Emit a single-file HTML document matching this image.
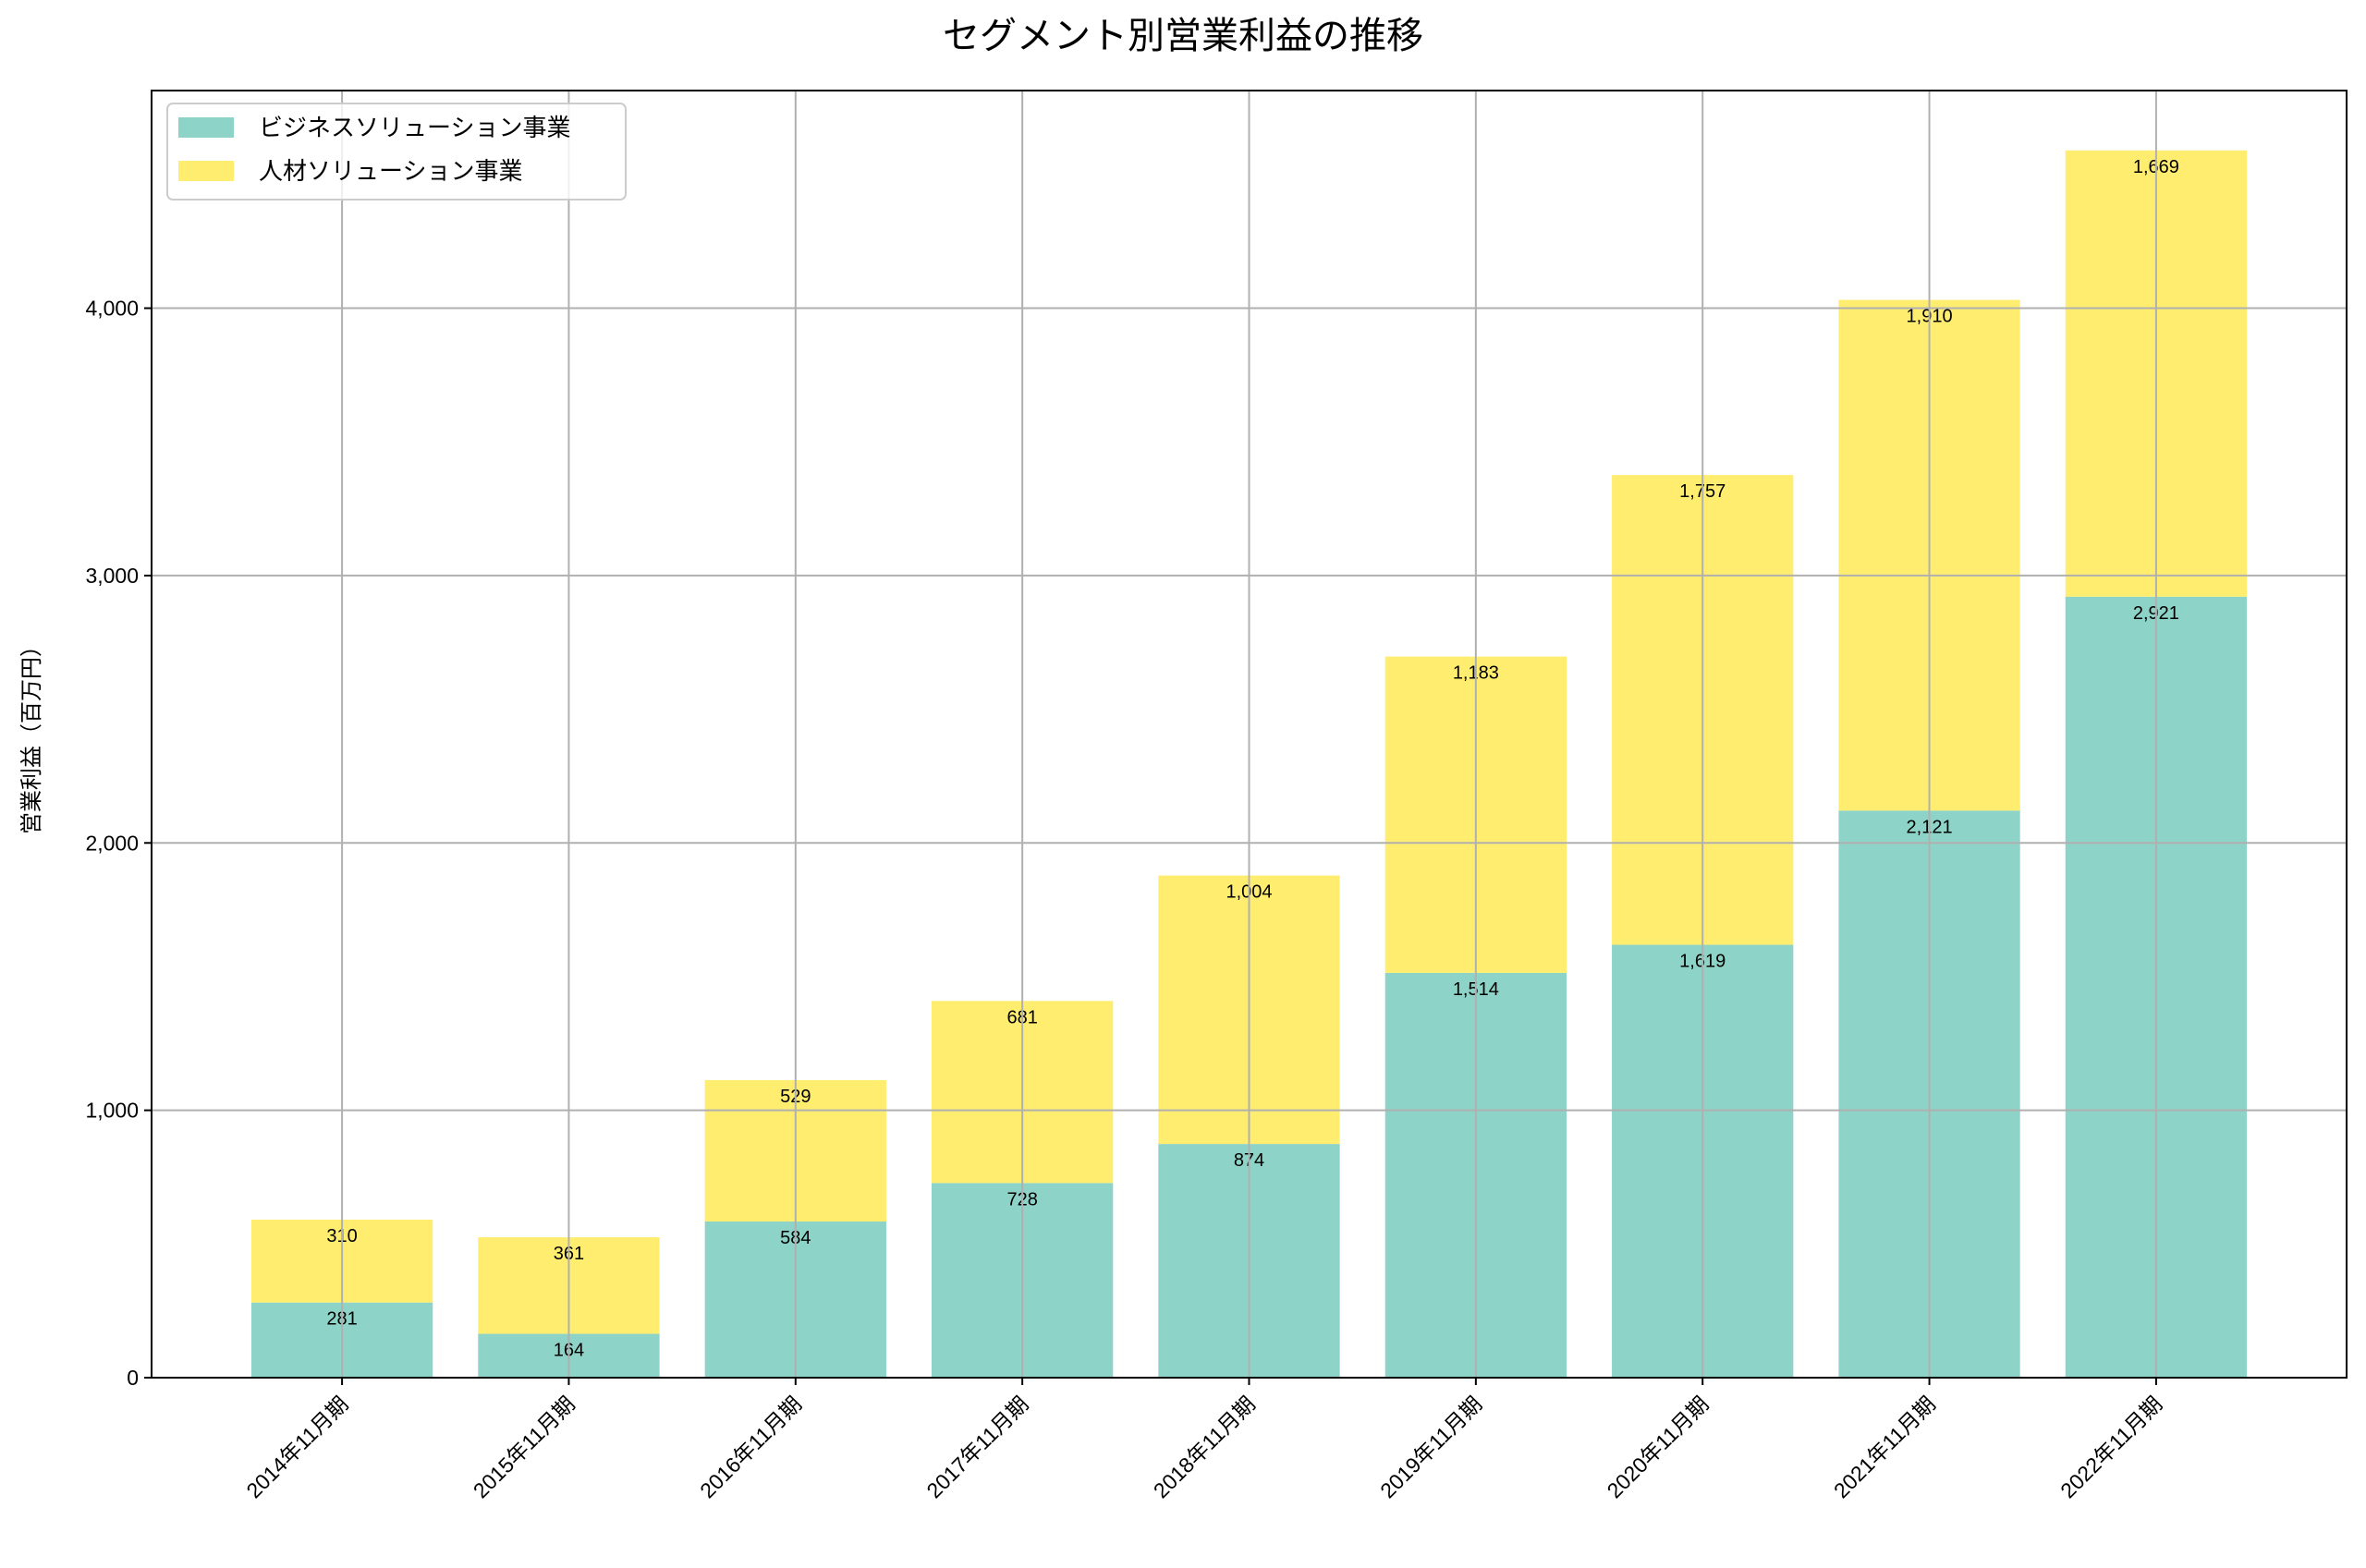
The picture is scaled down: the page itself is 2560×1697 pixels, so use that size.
<!DOCTYPE html>
<html><head><meta charset="utf-8"><style>
html,body{margin:0;padding:0;background:#fff}
svg{display:block;font-family:"Liberation Sans","Noto Sans CJK JP",sans-serif}
</style></head><body>
<svg id="chart" width="2560" height="1697" viewBox="0 0 2560 1697">
<text x="1280" y="52" font-size="40" text-anchor="middle">セグメント別営業利益の推移</text>
<g id="grid"></g>
<g id="bars"></g>
<g id="labels"></g>
<rect x="164" y="98" width="2375" height="1393" fill="none" stroke="#000" stroke-width="2"/>
<g id="yticks"></g>
<g id="xticks"></g>
<text transform="translate(42,795) rotate(-90)" font-size="24" text-anchor="middle">営業利益（百万円）</text>
<g>
<rect x="181" y="112" width="496" height="104" rx="6" fill="#fff" fill-opacity="0.8" stroke="#ccc" stroke-width="2"/>
<rect x="193" y="127" width="60" height="22" fill="#8dd3c7"/>
<text x="280" y="147" font-size="26">ビジネスソリューション事業</text>
<rect x="193" y="174" width="60" height="22" fill="#ffed6f"/>
<text x="280" y="194" font-size="26">人材ソリューション事業</text>
</g>
</svg>
<script>
const categories=["2014年11月期","2015年11月期","2016年11月期","2017年11月期","2018年11月期","2019年11月期","2020年11月期","2021年11月期","2022年11月期"];
const business=[281,164,584,728,874,1514,1619,2121,2921];
const hr=[310,361,529,681,1004,1183,1757,1910,1669];
const yTicks=[0,1000,2000,3000,4000];
const yTickLabels=["0","1,000","2,000","3,000","4,000"];
const NS="http://www.w3.org/2000/svg";
const L=164,R=2539,T=98,B=1491,yMax=4814;
const xMin=-0.84,xMax=8.84;
const xs=i=>L+(i-xMin)/(xMax-xMin)*(R-L);
const ys=v=>B-v/yMax*(B-T);
const bw=0.8*(R-L)/(xMax-xMin);
function mk(tag,attrs,parent){const e=document.createElementNS(NS,tag);for(const k in attrs)e.setAttribute(k,attrs[k]);document.getElementById(parent).appendChild(e);return e;}
const fmt=v=>v.toLocaleString('en-US');
yTicks.forEach((t,i)=>{
  const y=ys(t);
  const tl=mk('line',{x1:L-8,x2:L,y1:y,y2:y,stroke:'#000','stroke-width':2},'yticks');
  
  
  const tx=mk('text',{x:L-14,y:y+8,'font-size':23,'text-anchor':'end'},'yticks');
  tx.textContent=yTickLabels[i];
  
  
});
categories.forEach((c,i)=>{
  const x=xs(i);
  const b0=ys(business[i]),b1=ys(business[i]+hr[i]);
  const r1=mk('rect',{x:x-bw/2,y:b0,width:bw,height:B-b0,fill:'#8dd3c7'},'bars');
  
  
  const r2=mk('rect',{x:x-bw/2,y:b1,width:bw,height:b0-b1,fill:'#ffed6f'},'bars');
  
  
  const t1=mk('text',{x:x,y:b0+24,'font-size':20,'text-anchor':'middle'},'labels');
  t1.textContent=fmt(business[i]);
  
  
  const t2=mk('text',{x:x,y:b1+24,'font-size':20,'text-anchor':'middle'},'labels');
  t2.textContent=fmt(hr[i]);
  
  
  const tk=mk('line',{x1:x,x2:x,y1:B,y2:B+8,stroke:'#000','stroke-width':2},'xticks');
  
  
  const lx=mk('text',{transform:`translate(${x+8},${B+30}) rotate(-45)`,'font-size':23,'text-anchor':'end'},'xticks');
  lx.textContent=c;
  
  
});
categories.forEach((c,i)=>{
  const g=mk('line',{x1:xs(i),x2:xs(i),y1:T,y2:B,stroke:'#b0b0b0','stroke-width':2},'labels');
  
  
});
yTicks.forEach(t=>{
  const g=mk('line',{x1:L,x2:R,y1:ys(t),y2:ys(t),stroke:'#b0b0b0','stroke-width':2},'labels');
  
  
});
</script>
</body></html>
